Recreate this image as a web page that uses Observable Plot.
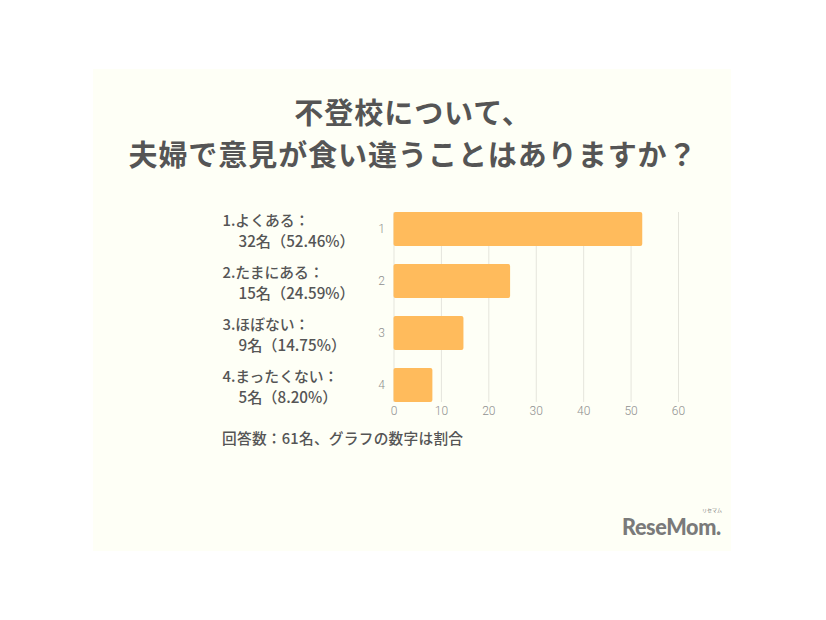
<!DOCTYPE html>
<html lang="ja">
<head>
<meta charset="utf-8">
<script src="https://cdn.jsdelivr.net/npm/d3@7"></script>
<script src="https://cdn.jsdelivr.net/npm/@observablehq/plot@0.6"></script>
<style>
  html, body { margin: 0; background: #fff; }
  body { width: 826px; height: 620px; position: relative; overflow: hidden; font-family: "Noto Sans CJK JP", sans-serif; color: #555; text-spacing-trim: space-all; }
  #panel { position: absolute; left: 93px; top: 69px; width: 638px; height: 482px; background: #fefff6; }
  #title { position: absolute; left: 0; top: 90px; width: 826px; text-align: center; font-size: 29px; font-weight: 700; line-height: 42px; letter-spacing: 0.95px; white-space: nowrap; }
  #note { position: absolute; left: 222px; top: 428px; font-size: 14.7px; font-weight: 500; line-height: 20px; letter-spacing: 0.25px; white-space: nowrap; }
  #logo { position: absolute; left: 622px; top: 519px; font-family: Lato, sans-serif; font-size: 22.5px; font-weight: 900; line-height: 16px; letter-spacing: -0.4px; color: #7a7a7a; white-space: nowrap; transform: scaleX(0.96); transform-origin: left center; }
  #logo-kana { position: absolute; left: 702px; top: 507px; font-size: 5px; line-height: 6px; color: #7a7a7a; white-space: nowrap; }
</style>
</head>
<body>
<div id="panel"></div>
<div id="title">不登校について、<br>夫婦で意見が食い違うことはありますか？</div>
<div id="chart"></div>
<div id="note">回答数：61名、グラフの数字は割合</div>
<div id="logo">ReseMom.</div>
<div id="logo-kana">リセマム</div>
<script>
// 値は画像から
const categories = [1, 2, 3, 4]
const shares = [52.46, 24.59, 14.75, 8.20]
const answers = ["1.よくある：", "2.たまにある：", "3.ほぼない：", "4.まったくない："]
const counts = ["32名（52.46%）", "15名（24.59%）", "9名（14.75%）", "5名（8.20%）"]
const xTicks = [0, 10, 20, 30, 40, 50, 60]

const rows = categories.map((c, i) => ({ c, share: shares[i], answer: answers[i], count: counts[i] }))

const chart = Plot.plot({
  width: 826,
  height: 620,
  marginLeft: 393.5,
  marginRight: 148,
  marginTop: 212,
  marginBottom: 218,
  style: { position: "absolute", left: 0, top: 0, background: "none", fontFamily: "'Noto Sans CJK JP', sans-serif" },
  x: { domain: [0, 60] },
  y: { domain: categories, paddingInner: 0.346, paddingOuter: 0, round: false },
  marks: [
    Plot.gridX(xTicks, { stroke: "#e5e5dc", strokeOpacity: 1, strokeWidth: 1 }),
    Plot.axisX(xTicks, { tickSize: 0, tickPadding: 4, label: null, fontSize: 12, fontWeight: 300, fontFamily: "Roboto", color: "#8f8f8f" }),
    Plot.axisY({ tickSize: 0, tickPadding: 9, label: null, fontSize: 12, fontWeight: 300, fontFamily: "Roboto", color: "#8f8f8f" }),
    Plot.barX(rows, { x: "share", y: "c", fill: "#ffbb5c", rx: 2 }),
    // 左側のラベル (1行目と2行目で字下げが違う)
    Plot.text(rows, { x: 0, y: "c", text: "answer", textAnchor: "start", dx: -171.5, dy: -8, fontSize: 14.8, fontWeight: 500, fill: "#555" }),
    Plot.text(rows, { x: 0, y: "c", text: "count", textAnchor: "start", dx: -155.5, dy: 13, fontSize: 15.2, fontWeight: 500, fill: "#555" })
  ]
})
d3.select('#chart').append(() => chart)
</script>
</body>
</html>
